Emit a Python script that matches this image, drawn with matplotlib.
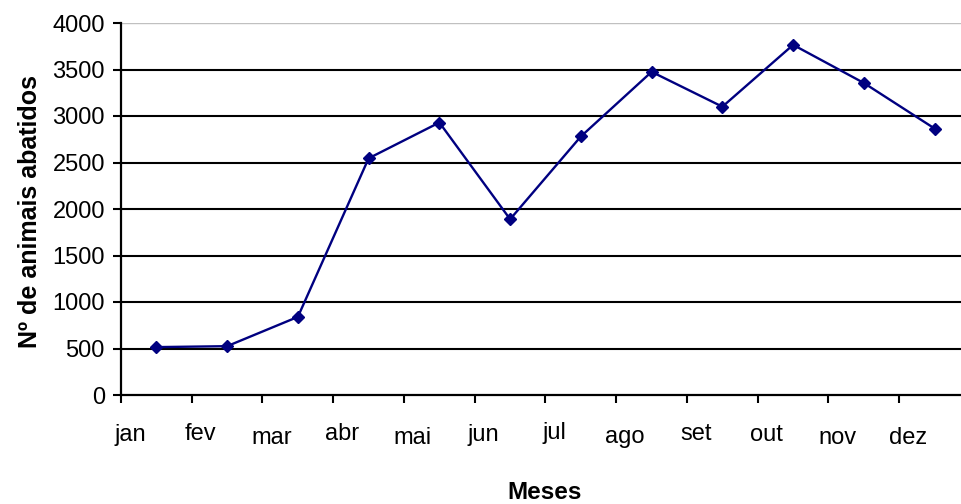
import matplotlib.pyplot as plt
import numpy as np

# meses e numero de animais abatidos
meses = ['jan', 'fev', 'mar', 'abr', 'mai', 'jun', 'jul', 'ago', 'set', 'out', 'nov', 'dez']
abatidos = [515, 525, 840, 2545, 2930, 1890, 2780, 3475, 3100, 3765, 3355, 2865]
yticks = list(range(0, 4001, 500))

# small vertical jitter of the category labels (pixels), as in the original picture
label_dy = [1, 0, 4, 0, 3.5, 1, -1.5, 3.5, 0, 1, 4, 3.5]

plt.rcParams['font.family'] = ['Liberation Sans', 'DejaVu Sans']

fig = plt.figure(figsize=(9.62, 5.04), dpi=100)
ax = fig.add_axes([121/962, 109/504, 849/962, 372/504])

x = np.arange(len(meses))
ax.plot(x, abatidos, color='#000080', lw=1.7, marker='D', markersize=6.5,
        markerfacecolor='#000080', markeredgecolor='#000080', markeredgewidth=1, zorder=3)

ax.set_xlim(-0.5, len(meses) - 0.5)
ax.set_ylim(0, 4000)

# horizontal gridlines
for v in yticks[1:-1]:
    ax.axhline(v, color='black', lw=1.5, zorder=1)
ax.axhline(yticks[-1], color='#c0c0c0', lw=1, zorder=1)

ax.set_yticks(yticks)
ax.set_yticklabels([str(v) for v in yticks], fontsize=17)
ax.set_xticks(np.arange(len(meses) + 1) - 0.5)
ax.set_xticklabels([])
ax.tick_params(axis='both', direction='out', length=5.8, width=1.5, color='black')
ax.tick_params(axis='y', pad=5.8)

for s in ['top', 'right']:
    ax.spines[s].set_visible(False)
for s in ['left', 'bottom']:
    ax.spines[s].set_linewidth(1.6)
    ax.spines[s].set_zorder(4)

for i, m in enumerate(meses):
    ax.annotate(m, xy=(i - 0.5, 0), xycoords=('data', 'axes fraction'),
                xytext=(9, -45 - label_dy[i]), textcoords='offset pixels',
                ha='center', va='baseline', fontsize=17, annotation_clip=False)

fig.text(545/962, 1 - 499/504, 'Meses', ha='center', va='baseline',
         fontsize=17.5, fontweight='bold')
fig.text(30/962, 1 - 211/504, 'Nº de animais abatidos', ha='center', va='center',
         rotation=90, fontsize=18, fontweight='bold')

fig.savefig('out.png', dpi=100)
